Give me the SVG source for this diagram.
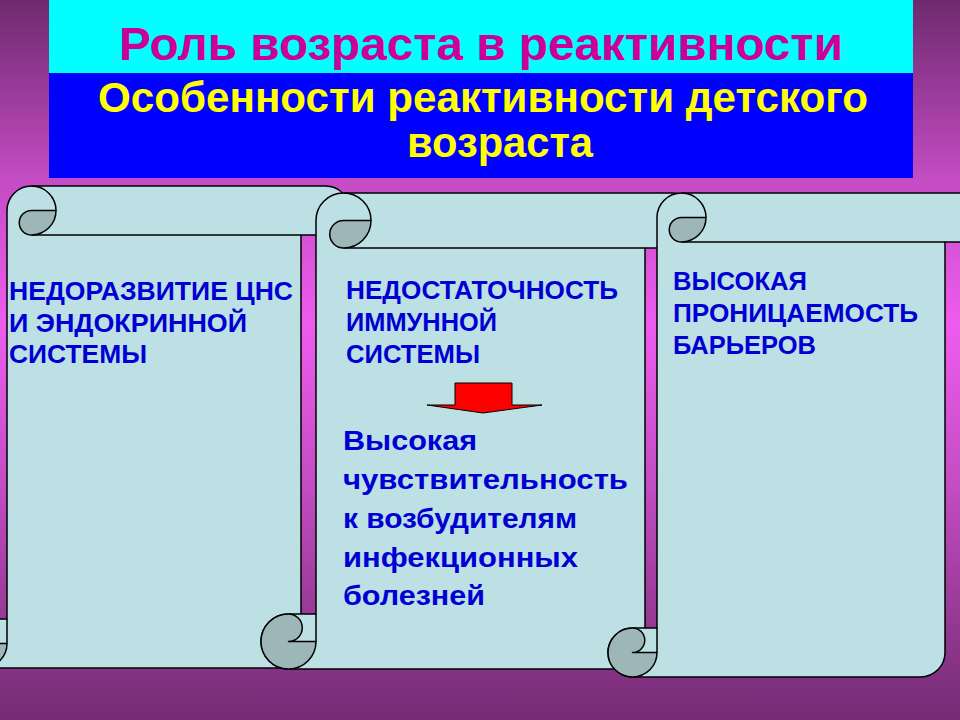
<svg xmlns="http://www.w3.org/2000/svg" width="960" height="720" viewBox="0 0 960 720">
<defs>
<linearGradient id="bg" x1="0" y1="0" x2="0" y2="1">
<stop offset="0" stop-color="#6e2a6e"/>
<stop offset="0.25" stop-color="#c44cc4"/>
<stop offset="0.45" stop-color="#ee5cee"/>
<stop offset="0.68" stop-color="#c24cc2"/>
<stop offset="0.85" stop-color="#983a96"/>
<stop offset="1" stop-color="#742c74"/>
</linearGradient>
</defs>
<style>
.body{fill:#bce0e3;stroke:#000;stroke-width:1.5;stroke-linejoin:round}
.curl{fill:#9db6b8;stroke:#000;stroke-width:1.5;stroke-linejoin:round}
.ln{fill:none;stroke:#000;stroke-width:1.5}
.t{font-family:"Liberation Sans",Arial,sans-serif;font-weight:bold}
.cap{font-size:25px;fill:#0000d4}
.low{font-size:28px;fill:#0000d4}
</style>
<rect x="0" y="0" width="960" height="720" fill="url(#bg)"/>
<g id="header">
<rect x="49" y="0" width="864" height="73" fill="#00ffff"/>
<rect x="49" y="73" width="864" height="105" fill="#0000ff"/>
<text class="t" x="481" y="60" font-size="46" fill="#cc0099" text-anchor="middle" textLength="724" lengthAdjust="spacingAndGlyphs">Роль возраста в реактивности</text>
<text class="t" x="483" y="112" font-size="42" fill="#ffff00" text-anchor="middle" textLength="770" lengthAdjust="spacingAndGlyphs">Особенности реактивности детского</text>
<text class="t" x="500" y="157" font-size="42" fill="#ffff00" text-anchor="middle" textLength="186" lengthAdjust="spacingAndGlyphs">возраста</text>
</g>
<g id="scroll1">
<path class="body" d="M7,210.5 A24.5,24.5 0 0 1 31.5,186 L325.5,186 A24.5,24.5 0 0 1 325.5,235 L301,235 L301,643.5 A24.5,24.5 0 0 1 276.5,668 L-17.5,668 A24.5,24.5 0 0 1 -17.5,619 L7,619 Z"/>
<path class="ln" d="M31.5,235 L301,235 M31.5,186 A24.5,24.5 0 0 1 56,210.5 M7,619 L7,643.5"/>
<path class="curl" d="M31.5,210.5 L56,210.5 A24.5,24.5 0 0 1 31.5,235 A12.25,12.25 0 0 1 31.5,210.5 Z"/>
<path class="curl" d="M-17.5,643.5 L7,643.5 A24.5,24.5 0 1 1 -17.5,619 A12.25,12.25 0 0 1 -17.5,643.5 Z"/>
<text class="t cap" x="9" y="300" textLength="284" lengthAdjust="spacingAndGlyphs">НЕДОРАЗВИТИЕ ЦНС</text>
<text class="t cap" x="9" y="332" textLength="238" lengthAdjust="spacingAndGlyphs">И ЭНДОКРИННОЙ</text>
<text class="t cap" x="9" y="363" textLength="138" lengthAdjust="spacingAndGlyphs">СИСТЕМЫ</text>
</g>
<g id="scroll2">
<path class="body" d="M316,220.5 A27.5,27.5 0 0 1 343.5,193 L672.5,193 A27.5,27.5 0 0 1 672.5,248 L645,248 L645,641.5 A27.5,27.5 0 0 1 617.5,669 L288.5,669 A27.5,27.5 0 0 1 288.5,614 L316,614 Z"/>
<path class="ln" d="M343.5,248 L645,248 M343.5,193 A27.5,27.5 0 0 1 371,220.5 M316,614 L316,641.5"/>
<path class="curl" d="M343.5,220.5 L371,220.5 A27.5,27.5 0 0 1 343.5,248 A13.75,13.75 0 0 1 343.5,220.5 Z"/>
<path class="curl" d="M288.5,641.5 L316,641.5 A27.5,27.5 0 1 1 288.5,614 A13.75,13.75 0 0 1 288.5,641.5 Z"/>
<text class="t cap" x="346" y="299" textLength="272" lengthAdjust="spacingAndGlyphs">НЕДОСТАТОЧНОСТЬ</text>
<text class="t cap" x="346" y="331" textLength="151" lengthAdjust="spacingAndGlyphs">ИММУННОЙ</text>
<text class="t cap" x="346" y="363" textLength="134" lengthAdjust="spacingAndGlyphs">СИСТЕМЫ</text>
<polygon points="455,383 512,383 512,405 542,405 483,413 427,405 455,405" fill="#ff0000" stroke="#000" stroke-width="1"/>
<text class="t low" x="343" y="450" textLength="134" lengthAdjust="spacingAndGlyphs">Высокая</text>
<text class="t low" x="343" y="489" textLength="285" lengthAdjust="spacingAndGlyphs">чувствительность</text>
<text class="t low" x="343" y="528" textLength="234" lengthAdjust="spacingAndGlyphs">к возбудителям</text>
<text class="t low" x="343" y="567" textLength="235" lengthAdjust="spacingAndGlyphs">инфекционных</text>
<text class="t low" x="343" y="605" textLength="142" lengthAdjust="spacingAndGlyphs">болезней</text>
</g>
<g id="scroll3">
<path class="body" d="M657,217.5 A24.5,24.5 0 0 1 681.5,193 L969.5,193 A24.5,24.5 0 0 1 969.5,242 L945,242 L945,652.5 A24.5,24.5 0 0 1 920.5,677 L632.5,677 A24.5,24.5 0 0 1 632.5,628 L657,628 Z"/>
<path class="ln" d="M681.5,242 L945,242 M681.5,193 A24.5,24.5 0 0 1 706,217.5 M657,628 L657,652.5"/>
<path class="curl" d="M681.5,217.5 L706,217.5 A24.5,24.5 0 0 1 681.5,242 A12.25,12.25 0 0 1 681.5,217.5 Z"/>
<path class="curl" d="M632.5,652.5 L657,652.5 A24.5,24.5 0 1 1 632.5,628 A12.25,12.25 0 0 1 632.5,652.5 Z"/>
<text class="t cap" x="673" y="290" textLength="134" lengthAdjust="spacingAndGlyphs">ВЫСОКАЯ</text>
<text class="t cap" x="673" y="322" textLength="245" lengthAdjust="spacingAndGlyphs">ПРОНИЦАЕМОСТЬ</text>
<text class="t cap" x="673" y="354" textLength="143" lengthAdjust="spacingAndGlyphs">БАРЬЕРОВ</text>
</g>
</svg>
